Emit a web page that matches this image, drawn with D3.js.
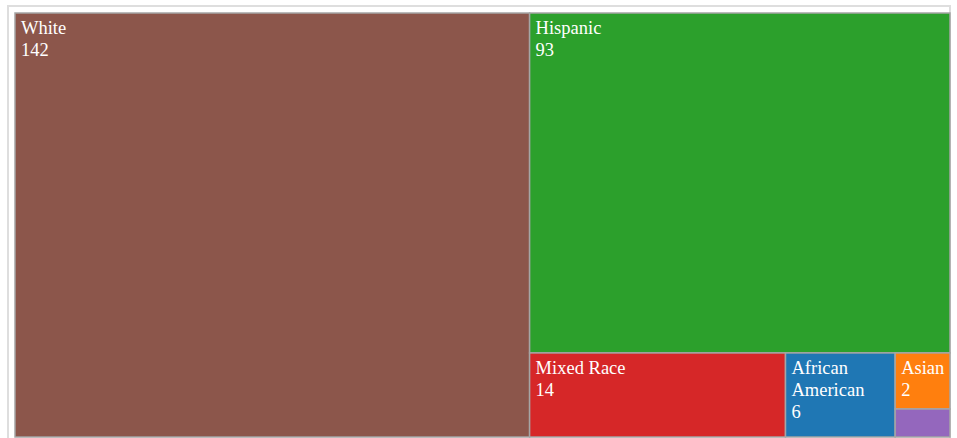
<!DOCTYPE html>
<html>
<head>
<meta charset="utf-8">
<script src="https://cdn.jsdelivr.net/npm/d3@7"></script>
<style>
  html, body { margin: 0; padding: 0; background: #fff; }
  svg { display: block; }
  .cell text { font-family: "Liberation Serif", "Times New Roman", Times, serif; }
</style>
</head>
<body>
<svg id="chart" width="957" height="438"></svg>
<script>
// Group counts
const groups = ["African American", "Asian", "Hispanic", "Mixed Race", "Other", "White"];
const counts = [6, 2, 93, 14, 1, 142];

const W = 957, H = 438;
const frame = { x: 8, y: 6 };
const area = { x: 15, y: 13, w: 935, h: 424 };

const svg = d3.select("#chart");

// light outer frame
svg.append("rect")
  .attr("x", frame.x).attr("y", frame.y)
  .attr("width", W - frame.x * 2 + 1).attr("height", H)
  .attr("fill", "none")
  .attr("stroke", "#dedede")
  .attr("stroke-width", 2);

const color = d3.scaleOrdinal().domain(groups).range(d3.schemeCategory10);

const root = d3.hierarchy({ children: groups.map((g, i) => ({ name: g, value: counts[i] })) })
  .sum(d => d.value || 0)
  .sort((a, b) => b.value - a.value);

d3.treemap()
  .tile(d3.treemapSquarify)
  .size([area.w, area.h])
  .round(false)(root);

const g = svg.append("g").attr("transform", `translate(${area.x},${area.y})`);

const cell = g.selectAll("g.cell")
  .data(root.leaves())
  .join("g")
  .attr("class", "cell")
  .attr("transform", d => `translate(${d.x0},${d.y0})`);

cell.append("rect")
  .attr("width", d => d.x1 - d.x0)
  .attr("height", d => d.y1 - d.y0)
  .attr("fill", d => color(d.data.name))
  .attr("stroke", "#a5a5a5")
  .attr("stroke-width", 1.5);

const fontSize = 18.5, lineH = 22, padX = 6, firstBase = 21;

// word-wrap a label to the tile width
function wrapLines(text, maxW, ctx) {
  const words = text.split(/\s+/);
  const lines = [];
  let cur = "";
  words.forEach(w => {
    const t = cur ? cur + " " + w : w;
    if (cur && ctx.measureText(t).width > maxW) { lines.push(cur); cur = w; }
    else cur = t;
  });
  if (cur) lines.push(cur);
  return lines;
}

const ctx = document.createElement("canvas").getContext("2d");
ctx.font = `${fontSize}px "Liberation Serif", "Times New Roman", serif`;

cell.each(function (d) {
  const w = d.x1 - d.x0, h = d.y1 - d.y0;
  const lines = wrapLines(d.data.name, w - padX * 2, ctx).concat([String(d.value)]);
  const needed = firstBase + (lines.length - 1) * lineH + 4;
  if (needed > h) return;
  const t = d3.select(this).append("text")
    .attr("fill", "#fff")
    .style("font-size", fontSize + "px");
  lines.forEach((ln, i) => {
    t.append("tspan").attr("x", padX).attr("y", firstBase + i * lineH).text(ln);
  });
});
</script>
</body>
</html>
